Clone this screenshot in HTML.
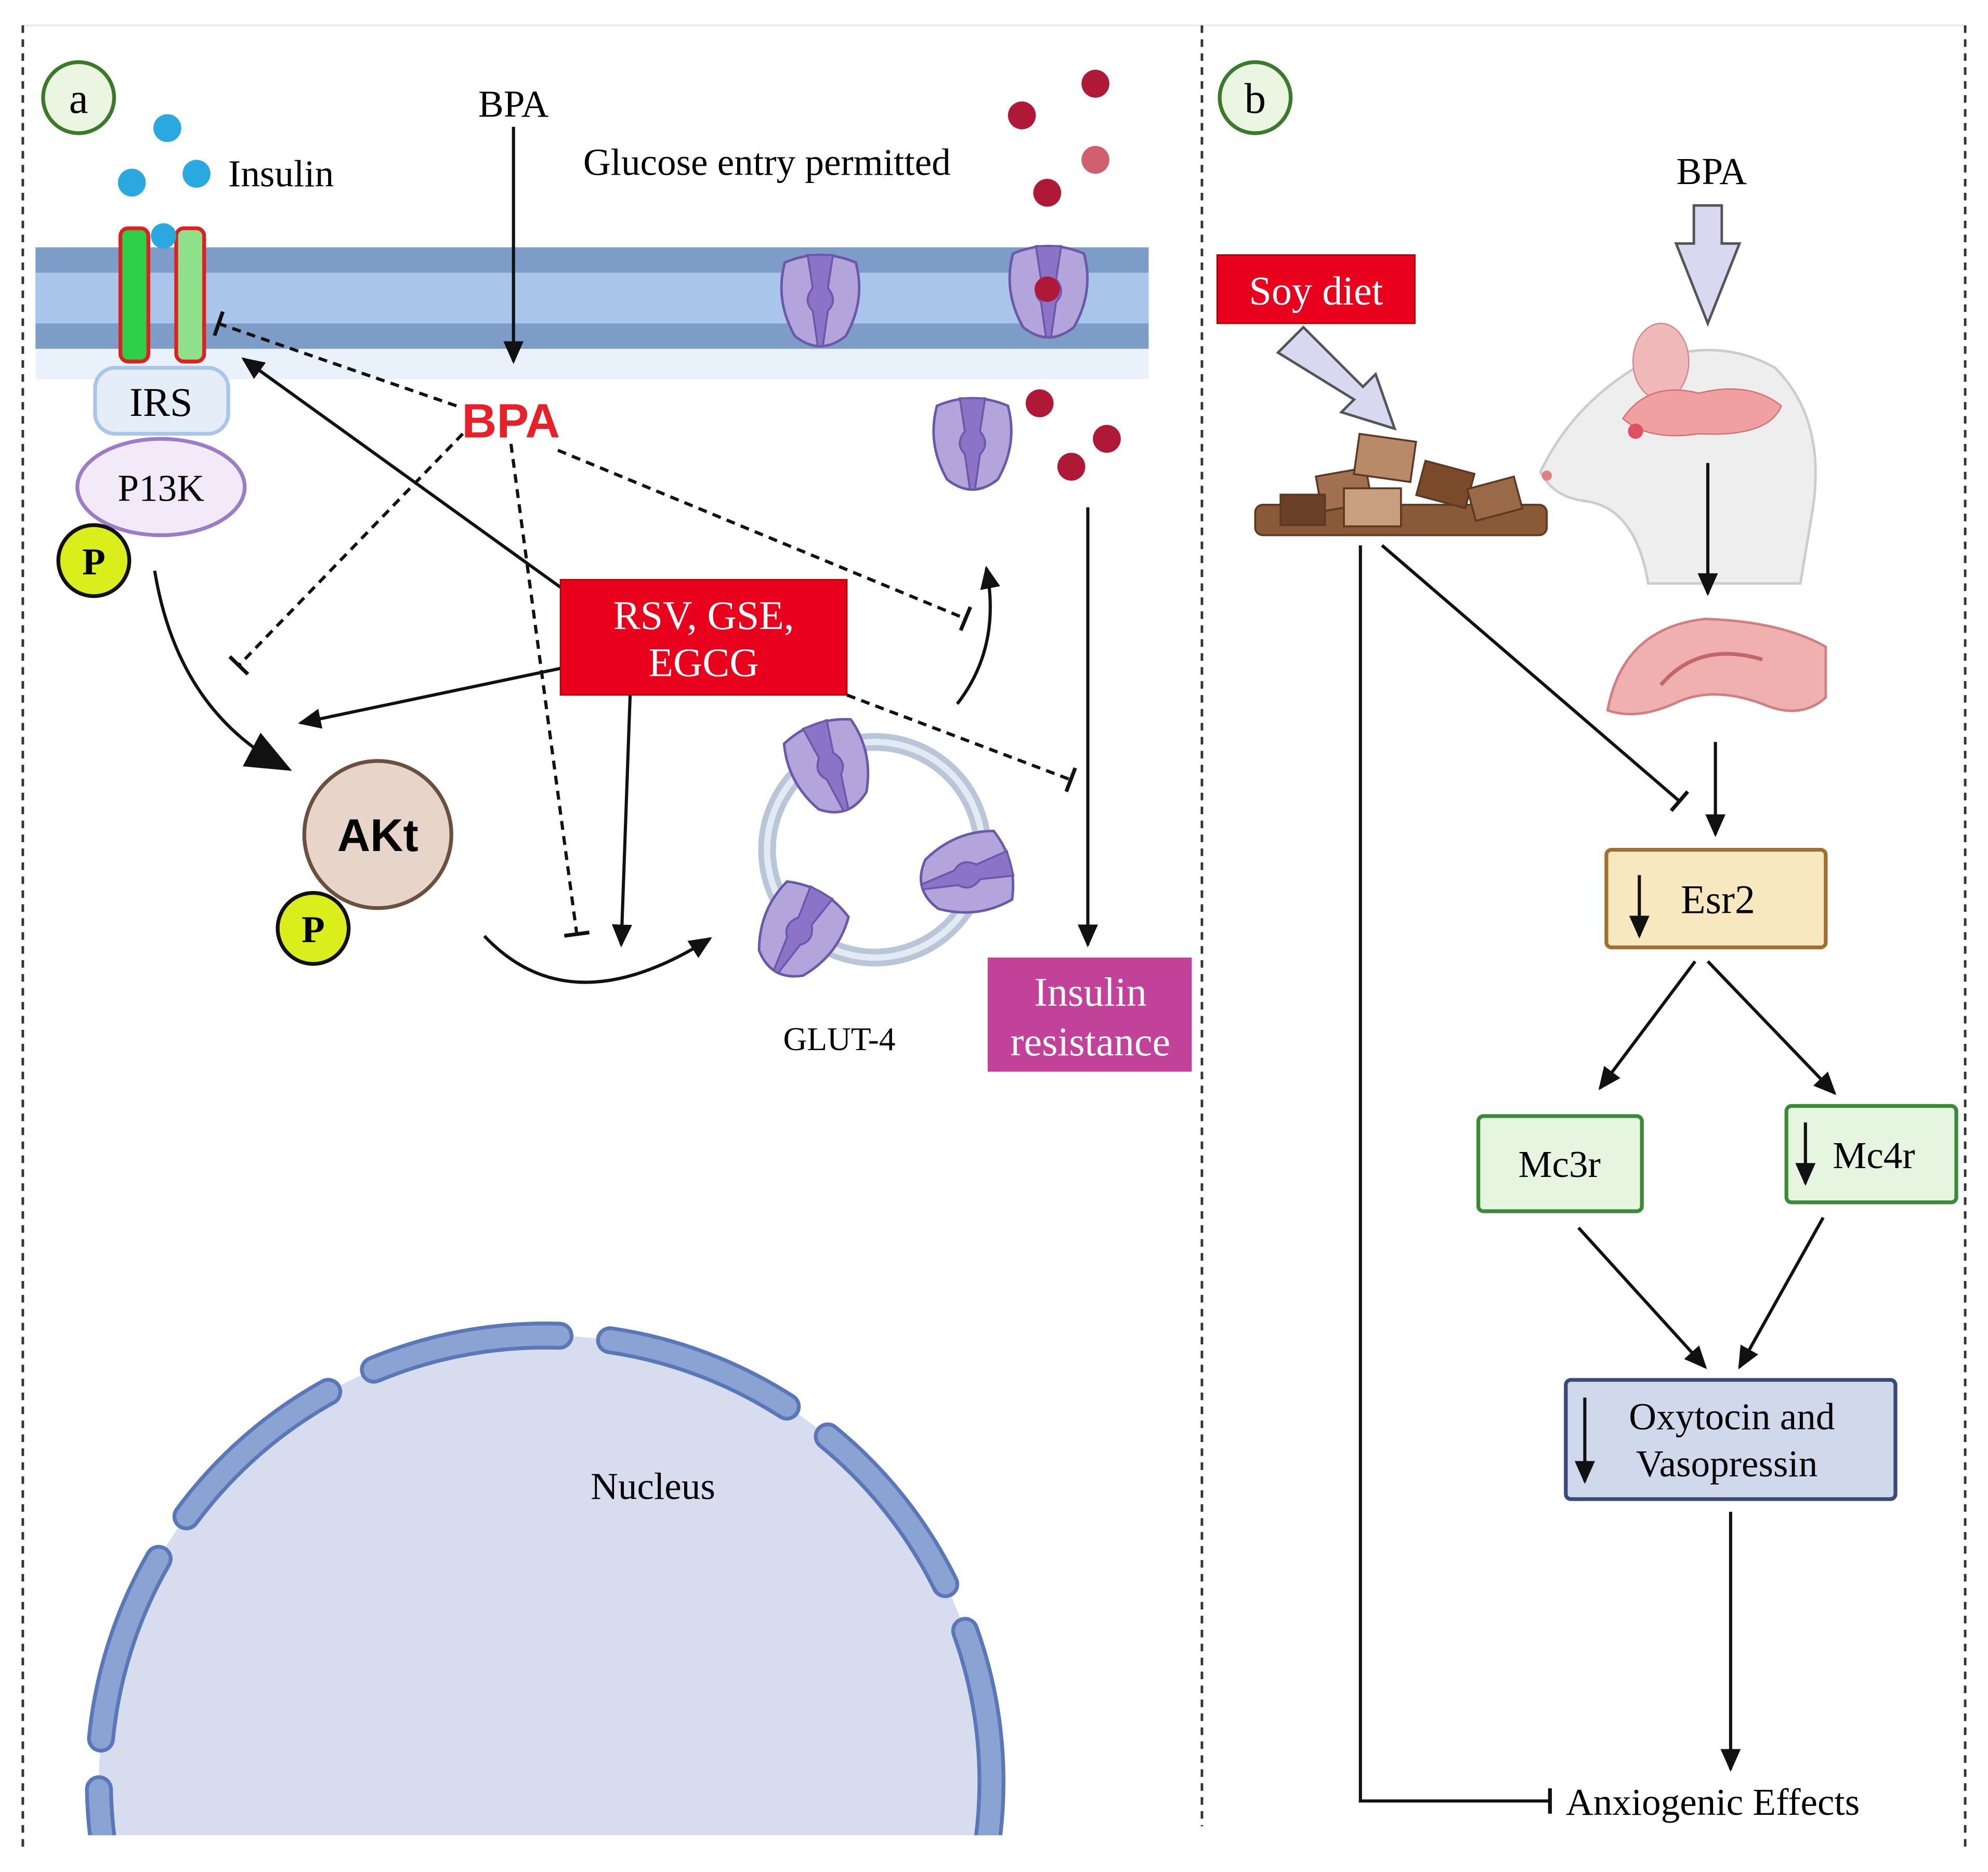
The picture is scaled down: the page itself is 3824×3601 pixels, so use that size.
<!DOCTYPE html>
<html><head><meta charset="utf-8"><style>
html,body{margin:0;padding:0;background:#fff;width:3824px;height:3601px;overflow:hidden;}
svg{display:block;position:absolute;left:0;top:0;}
.s{font-family:"Liberation Serif",serif;}
.a{font-family:"Liberation Sans",sans-serif;}
</style></head><body>
<svg width="3824" height="3601" viewBox="0 0 1568 1476" preserveAspectRatio="none" xmlns="http://www.w3.org/2000/svg">
<defs>
<marker id="ar" markerWidth="10" markerHeight="10" refX="8" refY="5" orient="auto" markerUnits="userSpaceOnUse"><path d="M0,0 L10,5 L0,10 z" fill="#111"/></marker>
<marker id="arB" markerWidth="40" markerHeight="30" refX="30" refY="15" orient="auto" markerUnits="userSpaceOnUse"><path d="M0,0 L36,15 L0,30 z" fill="#111"/></marker>
<marker id="arM" markerWidth="20" markerHeight="16" refX="16" refY="8" orient="auto" markerUnits="userSpaceOnUse"><path d="M0,0 L18,8 L0,16 z" fill="#111"/></marker>
<marker id="tb" markerWidth="4" markerHeight="20" refX="2" refY="10" orient="auto" markerUnits="userSpaceOnUse"><rect x="0" y="0" width="3" height="20" fill="#111"/></marker>
<clipPath id="nc"><rect x="0" y="0" width="940" height="1447"/></clipPath>
<g id="glut"><path d="M-28,-30 Q0,-42 28,-30 Q36,0 20,28 Q0,44 -20,28 Q-36,0 -28,-30 z" fill="#b3a5dc" stroke="#6a58a8" stroke-width="2"/><path d="M-10,-36 L10,-36 L6,-10 Q14,0 6,8 L2,36 L-2,36 L-6,8 Q-14,0 -6,-10 z" fill="#8b74c8" stroke="#6a58a8" stroke-width="1.5"/></g>
</defs>
<rect width="1568" height="1476" fill="#fff"/>
<line x1="18" y1="20" x2="1550" y2="20" stroke="#eee" stroke-width="2"/>
<g stroke="#333" stroke-width="2" stroke-dasharray="6,5">
<line x1="18" y1="20" x2="18" y2="1460"/><line x1="948" y1="20" x2="948" y2="1440"/><line x1="1550" y1="20" x2="1550" y2="1460"/>
</g>
<circle cx="62" cy="77" r="28" fill="#eaf5e2" stroke="#3a7a2a" stroke-width="3"/><text x="62" y="89" class="s" font-size="34" text-anchor="middle">a</text>
<circle cx="990" cy="77" r="28" fill="#eaf5e2" stroke="#3a7a2a" stroke-width="3"/><text x="990" y="89" class="s" font-size="34" text-anchor="middle">b</text>
<rect x="28" y="275" width="878" height="24" fill="#e9f1fa"/>
<rect x="28" y="195" width="878" height="80" fill="#7d9cc8"/>
<rect x="28" y="215" width="878" height="40" fill="#a9c5ea"/>
<rect x="95" y="180" width="22" height="105" rx="6" fill="#2ed04a" stroke="#e02020" stroke-width="3"/>
<rect x="139" y="180" width="22" height="105" rx="6" fill="#8ee08a" stroke="#e02020" stroke-width="3"/>
<g fill="#2aa8e0"><circle cx="132" cy="101" r="11"/><circle cx="104" cy="144" r="11"/><circle cx="155" cy="137" r="11"/><circle cx="129" cy="186" r="10"/></g>
<text x="180" y="147" class="s" font-size="30">Insulin</text>
<text x="405" y="92" class="s" font-size="30" text-anchor="middle">BPA</text>
<line x1="405" y1="100" x2="405" y2="285" stroke="#111" stroke-width="2.5" marker-end="url(#arM)"/>
<text x="460" y="138" class="s" font-size="30">Glucose entry permitted</text>
<g fill="#b01838"><circle cx="806" cy="91" r="11"/><circle cx="864" cy="66" r="11"/><circle cx="864" cy="126" r="11" fill="#d06070"/><circle cx="826" cy="152" r="11"/><circle cx="820" cy="318" r="11"/><circle cx="873" cy="346" r="11"/><circle cx="845" cy="368" r="11"/></g>
<use href="#glut" x="647" y="237"/><use href="#glut" x="827" y="230"/><circle cx="826" cy="228" r="10" fill="#b01838"/>
<use href="#glut" x="767" y="350"/>
<circle cx="690" cy="670" r="85" fill="none" stroke="#b8c6d8" stroke-width="14"/>
<circle cx="690" cy="670" r="85" fill="none" stroke="#e2eaf4" stroke-width="5"/>
<use href="#glut" transform="translate(655,605) rotate(-20)"/>
<use href="#glut" transform="translate(762,690) rotate(75)"/>
<use href="#glut" transform="translate(630,735) rotate(30)"/>
<text x="662" y="828" class="s" font-size="26" text-anchor="middle">GLUT-4</text>
<rect x="75" y="290" width="105" height="52" rx="16" fill="#e5eef8" stroke="#a9c5ea" stroke-width="3"/>
<text x="127" y="328" class="s" font-size="32" text-anchor="middle">IRS</text>
<ellipse cx="127" cy="384" rx="66" ry="38" fill="#f2eaf9" stroke="#9b7cc8" stroke-width="3"/>
<text x="127" y="395" class="s" font-size="30" text-anchor="middle">P13K</text>
<circle cx="74" cy="442" r="28" fill="#d9ee1a" stroke="#111" stroke-width="3"/><text x="74" y="453" class="s" font-size="30" text-anchor="middle" font-weight="bold">P</text>
<circle cx="298" cy="658" r="58" fill="#e6d5c8" stroke="#6b5040" stroke-width="3"/><text x="298" y="671" class="a" font-size="36" text-anchor="middle" font-weight="bold">AKt</text>
<circle cx="247" cy="732" r="28" fill="#d9ee1a" stroke="#111" stroke-width="3"/><text x="247" y="743" class="s" font-size="30" text-anchor="middle" font-weight="bold">P</text>
<text x="403" y="345" class="a" font-size="38" text-anchor="middle" font-weight="bold" fill="#e8202a">BPA</text>
<g stroke="#111" stroke-width="2.5" fill="none">
<line x1="442" y1="463" x2="192" y2="283" marker-end="url(#arM)"/>
<line x1="442" y1="527" x2="237" y2="570" marker-end="url(#arM)"/>
<line x1="497" y1="548" x2="490" y2="745" marker-end="url(#arM)"/>
<path d="M122,450 Q140,560 225,605" marker-end="url(#arB)"/>
<path d="M382,738 Q450,810 560,740" marker-end="url(#arM)"/>
<path d="M755,555 Q790,510 778,448" marker-end="url(#arM)"/>
<line x1="858" y1="400" x2="858" y2="745" marker-end="url(#arM)"/>
</g>
<g stroke="#111" stroke-width="2.5" fill="none" stroke-dasharray="7,5">
<line x1="360" y1="320" x2="172" y2="255" marker-end="url(#tb)"/>
<line x1="365" y1="342" x2="188" y2="525" marker-end="url(#tb)"/>
<line x1="403" y1="350" x2="455" y2="737" marker-end="url(#tb)"/>
<line x1="440" y1="355" x2="762" y2="488" marker-end="url(#tb)"/>
<line x1="668" y1="548" x2="845" y2="615" marker-end="url(#tb)"/>
</g>
<rect x="442" y="457" width="226" height="91" fill="#e8001c" stroke="#a00" stroke-width="1"/>
<text x="555" y="496" class="s" font-size="32" fill="#fff" text-anchor="middle">RSV, GSE,</text>
<text x="555" y="533" class="s" font-size="32" fill="#fff" text-anchor="middle">EGCG</text>
<rect x="779" y="755" width="161" height="90" fill="#c2429a"/>
<text x="860" y="793" class="s" font-size="32" fill="#fff" text-anchor="middle">Insulin</text>
<text x="860" y="832" class="s" font-size="32" fill="#fff" text-anchor="middle">resistance</text>
<g clip-path="url(#nc)">
<circle cx="430" cy="1405" r="352" fill="#d7dcef"/>
<circle cx="430" cy="1405" r="352" fill="none" stroke="#5a78b8" stroke-width="22" stroke-linecap="round" stroke-dasharray="150,40"/>
<circle cx="430" cy="1405" r="352" fill="none" stroke="#8ba3d3" stroke-width="16" stroke-linecap="round" stroke-dasharray="150,40"/>
</g>
<text x="515" y="1182" class="s" font-size="30" text-anchor="middle">Nucleus</text>
<rect x="960" y="201" width="156" height="54" fill="#e8001c" stroke="#900" stroke-width="1"/>
<text x="1038" y="240" class="s" font-size="32" fill="#fff" text-anchor="middle">Soy diet</text>
<path d="M1008,278 L1028,258 L1075,305 L1085,295 L1100,338 L1058,325 L1068,315 z" fill="#d8d8f0" stroke="#555" stroke-width="2"/>
<text x="1350" y="145" class="s" font-size="30" text-anchor="middle">BPA</text>
<path d="M1336,162 L1358,162 L1358,192 L1372,192 L1347,255 L1322,192 L1336,192 z" fill="#d8d8f0" stroke="#555" stroke-width="2"/>
<g stroke="#5a3a20" stroke-width="1.5">
<rect x="990" y="398" width="230" height="24" rx="6" fill="#8a5a38"/>
<rect x="1040" y="372" width="40" height="28" fill="#a07050" transform="rotate(-10 1060 386)"/>
<rect x="1070" y="345" width="45" height="32" fill="#b88a68" transform="rotate(8 1092 360)"/>
<rect x="1120" y="368" width="40" height="28" fill="#7a4a2a" transform="rotate(15 1140 382)"/>
<rect x="1060" y="385" width="45" height="30" fill="#c8a080"/>
<rect x="1160" y="380" width="38" height="26" fill="#9a6a48" transform="rotate(-15 1180 393)"/>
<rect x="1010" y="390" width="35" height="24" fill="#6a4028"/>
</g>
<path d="M1215,372 Q1240,320 1290,290 Q1350,262 1400,290 Q1440,330 1430,400 L1420,460 L1300,460 Q1290,400 1250,395 Q1225,392 1215,372 z" fill="#eeeeee" stroke="#ccc" stroke-width="2"/>
<ellipse cx="1310" cy="285" rx="22" ry="30" fill="#f0b8b8" stroke="#d08888"/>
<path d="M1280,330 Q1300,300 1340,310 Q1380,300 1405,320 Q1395,345 1340,342 Q1300,348 1280,330 z" fill="#f0a0a0" stroke="#d07070"/>
<circle cx="1290" cy="340" r="6" fill="#e05060"/>
<circle cx="1220" cy="375" r="4" fill="#e08080"/>
<line x1="1347" y1="365" x2="1347" y2="468" stroke="#111" stroke-width="2.5" marker-end="url(#arM)"/>
<path d="M1268,560 Q1280,495 1345,488 Q1405,490 1440,510 L1440,550 Q1420,568 1390,555 Q1350,540 1320,555 Q1290,568 1268,560 z" fill="#f0b0b0" stroke="#d08080" stroke-width="2"/>
<path d="M1310,540 Q1340,505 1390,520" fill="none" stroke="#c06868" stroke-width="3"/>
<line x1="1353" y1="585" x2="1353" y2="658" stroke="#111" stroke-width="2.5" marker-end="url(#arM)"/>
<line x1="1090" y1="430" x2="1325" y2="632" stroke="#111" stroke-width="2.5" marker-end="url(#tb)"/>
<rect x="1267" y="670" width="173" height="77" rx="4" fill="#f8e8c0" stroke="#a07030" stroke-width="3"/>
<line x1="1293" y1="690" x2="1293" y2="738" stroke="#111" stroke-width="2.5" marker-end="url(#arM)"/>
<text x="1355" y="720" class="s" font-size="32" text-anchor="middle">Esr2</text>
<line x1="1337" y1="758" x2="1262" y2="858" stroke="#111" stroke-width="2.5" marker-end="url(#arM)"/>
<line x1="1347" y1="758" x2="1447" y2="862" stroke="#111" stroke-width="2.5" marker-end="url(#arM)"/>
<rect x="1166" y="880" width="129" height="75" rx="4" fill="#e5f5e0" stroke="#3a8a3a" stroke-width="3"/>
<text x="1230" y="928" class="s" font-size="30" text-anchor="middle">Mc3r</text>
<rect x="1409" y="872" width="134" height="76" rx="4" fill="#e5f5e0" stroke="#3a8a3a" stroke-width="3"/>
<line x1="1424" y1="885" x2="1424" y2="933" stroke="#111" stroke-width="2.5" marker-end="url(#arM)"/>
<text x="1478" y="921" class="s" font-size="30" text-anchor="middle">Mc4r</text>
<line x1="1245" y1="968" x2="1345" y2="1078" stroke="#111" stroke-width="2.5" marker-end="url(#arM)"/>
<line x1="1438" y1="960" x2="1372" y2="1078" stroke="#111" stroke-width="2.5" marker-end="url(#arM)"/>
<rect x="1235" y="1088" width="260" height="94" rx="4" fill="#d0d8ec" stroke="#3a4a7a" stroke-width="3"/>
<line x1="1250" y1="1102" x2="1250" y2="1168" stroke="#111" stroke-width="2.5" marker-end="url(#arM)"/>
<text x="1366" y="1127" class="s" font-size="30" text-anchor="middle">Oxytocin and</text>
<text x="1362" y="1164" class="s" font-size="30" text-anchor="middle">Vasopressin</text>
<line x1="1365" y1="1192" x2="1365" y2="1395" stroke="#111" stroke-width="2.5" marker-end="url(#arM)"/>
<polyline points="1073,430 1073,1420 1223,1420" fill="none" stroke="#111" stroke-width="2.5" marker-end="url(#tb)"/>
<text x="1235" y="1431" class="s" font-size="30">Anxiogenic Effects</text>
</svg>
</body></html>
